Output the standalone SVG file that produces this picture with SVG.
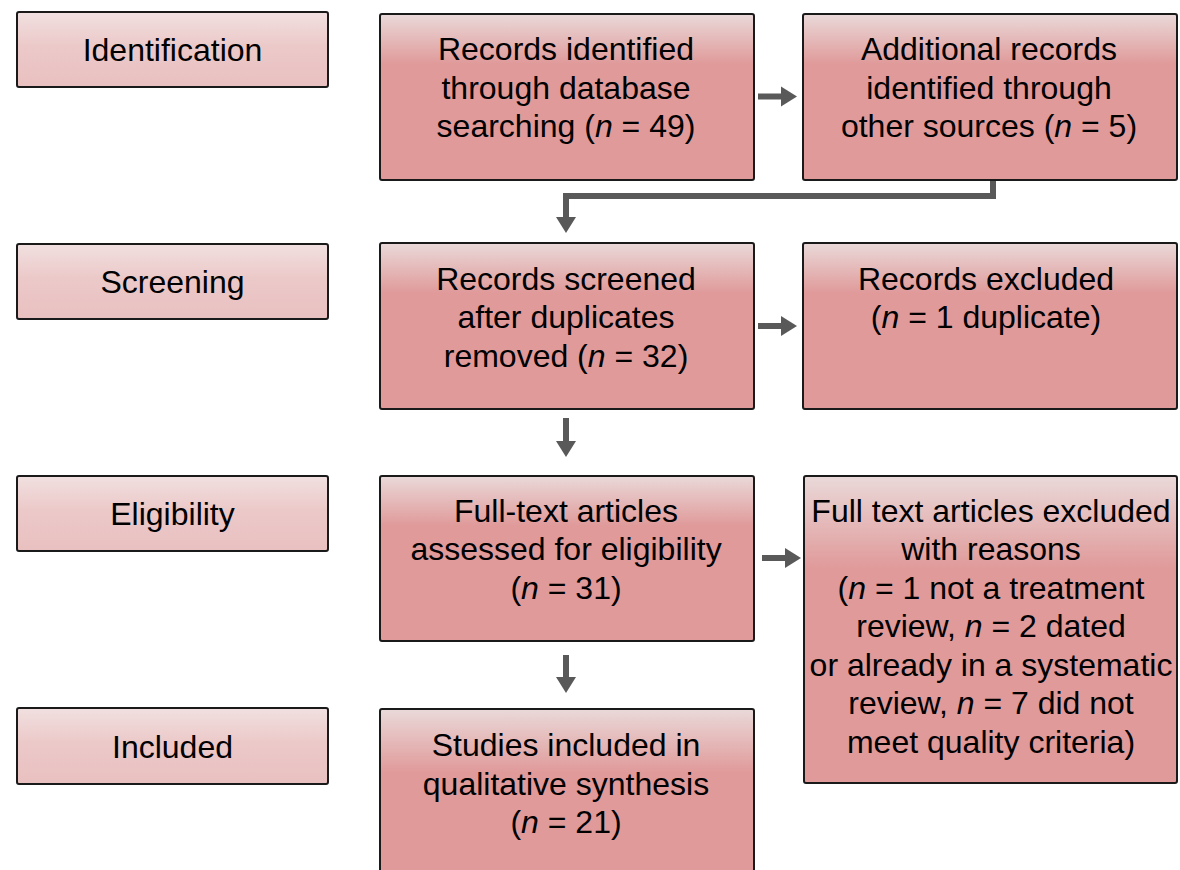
<svg xmlns="http://www.w3.org/2000/svg" width="1180" height="870" viewBox="0 0 1180 870">
<defs>
<linearGradient id="gMain" x1="0" y1="0" x2="0" y2="1">
<stop offset="0" stop-color="#ead9d9"/>
<stop offset="0.3" stop-color="#e09a9a"/>
<stop offset="1" stop-color="#e09a9a"/>
</linearGradient>
<linearGradient id="gLabel" x1="0" y1="0" x2="0" y2="1">
<stop offset="0" stop-color="#f1e0e0"/>
<stop offset="0.45" stop-color="#ecc9c9"/>
<stop offset="1" stop-color="#e9c0c0"/>
</linearGradient>
</defs>
<style>
.lab{fill:url(#gLabel);stroke:#1a1a1a;stroke-width:2}
.box{fill:url(#gMain);stroke:#1a1a1a;stroke-width:2}
text{font-family:"Liberation Sans",Arial,sans-serif;font-size:32px;fill:#000;text-anchor:middle}
.c{fill:none;stroke:#595959;stroke-width:6}
.h{fill:#595959}
</style>
<rect width="1180" height="870" fill="#fff"/>
<g id="lab-identification"><rect class="lab" x="17" y="12" width="311" height="75" rx="2"/><text x="172.5" y="61">Identification</text></g>
<g id="lab-screening"><rect class="lab" x="17" y="244" width="311" height="75" rx="2"/><text x="172.5" y="293">Screening</text></g>
<g id="lab-eligibility"><rect class="lab" x="17" y="476" width="311" height="75" rx="2"/><text x="172.5" y="525">Eligibility</text></g>
<g id="lab-included"><rect class="lab" x="17" y="708" width="311" height="76" rx="2"/><text x="172.5" y="758">Included</text></g>

<g id="n-db"><rect class="box" x="380" y="14" width="374" height="166" rx="2"/>
<text x="566" y="60">Records identified</text>
<text x="566" y="99">through database</text>
<text x="566" y="137">searching (<tspan font-style="italic">n</tspan> = 49)</text></g>

<g id="n-other"><rect class="box" x="803" y="14" width="374" height="166" rx="2"/>
<text x="989" y="60">Additional records</text>
<text x="989" y="99">identified through</text>
<text x="989" y="137">other sources (<tspan font-style="italic">n</tspan> = 5)</text></g>

<g id="n-screened"><rect class="box" x="380" y="243" width="374" height="166" rx="2"/>
<text x="566" y="290">Records screened</text>
<text x="566" y="328">after duplicates</text>
<text x="566" y="367">removed (<tspan font-style="italic">n</tspan> = 32)</text></g>

<g id="n-excluded"><rect class="box" x="803" y="243" width="374" height="166" rx="2"/>
<text x="986" y="290">Records excluded</text>
<text x="986" y="328">(<tspan font-style="italic">n</tspan> = 1 duplicate)</text></g>

<g id="n-fulltext"><rect class="box" x="380" y="476" width="374" height="165" rx="2"/>
<text x="566" y="522">Full-text articles</text>
<text x="566" y="560">assessed for eligibility</text>
<text x="566" y="599">(<tspan font-style="italic">n</tspan> = 31)</text></g>

<g id="n-ftexcluded"><rect class="box" x="804" y="476" width="373" height="307" rx="2"/>
<text x="991" y="522">Full text articles excluded</text>
<text x="991" y="560">with reasons</text>
<text x="991" y="599">(<tspan font-style="italic">n</tspan> = 1 not a treatment</text>
<text x="991" y="637">review, <tspan font-style="italic">n</tspan> = 2 dated</text>
<text x="991" y="676">or already in a systematic</text>
<text x="991" y="714">review, <tspan font-style="italic">n</tspan> = 7 did not</text>
<text x="991" y="753">meet quality criteria)</text></g>

<g id="n-included"><rect class="box" x="380" y="709" width="374" height="211" rx="2"/>
<text x="566" y="756">Studies included in</text>
<text x="566" y="795">qualitative synthesis</text>
<text x="566" y="833">(<tspan font-style="italic">n</tspan> = 21)</text></g>

<g id="connectors">
<path class="c" d="M758,96.5 H782"/><polygon class="h" points="781,86.5 797,96.5 781,106.5"/>
<path class="c" d="M993,181 V196 H566 V218"/><polygon class="h" points="556,217 576,217 566,233"/>
<path class="c" d="M758,326 H782"/><polygon class="h" points="781,316 797,326 781,336"/>
<path class="c" d="M566,418 V442"/><polygon class="h" points="556,441 576,441 566,457"/>
<path class="c" d="M762,558 H786"/><polygon class="h" points="785,548 801,558 785,568"/>
<path class="c" d="M566,655 V678"/><polygon class="h" points="556,677 576,677 566,693"/>
</g>
</svg>
